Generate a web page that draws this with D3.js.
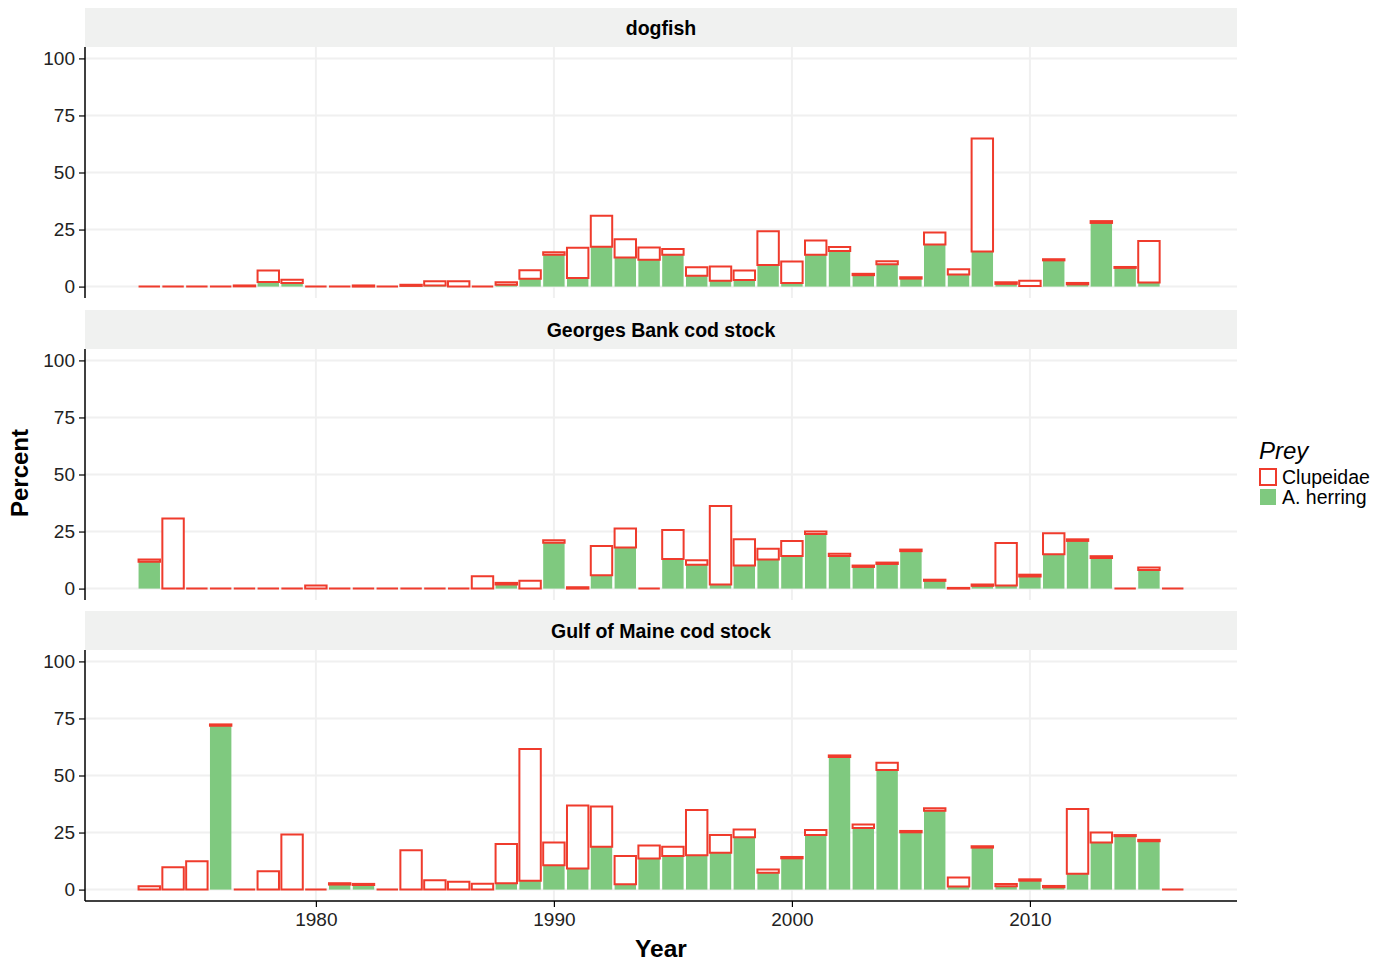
<!DOCTYPE html>
<html>
<head>
<meta charset="utf-8">
<script src="https://cdn.jsdelivr.net/npm/d3@7"></script>
<style>
  body { margin: 0; background: #fff; }
  text { font-family: "Liberation Sans", Arial, sans-serif; }
</style>
</head>
<body>
<div id="viz"></div>
<script>
var width = 1384
var height = 962

// years and values (percent)
var years = d3.range(1973, 2017)
var facets = ["dogfish", "Georges Bank cod stock", "Gulf of Maine cod stock"]
var preyLabels = ["Clupeidae", "A. herring"]
var yTicks = [0, 25, 50, 75, 100]
var xTicks = [1980, 1990, 2000, 2010]

// dogfish has no 2016 sample
var dogfishClupeidae = [0, 0, 0, 0, 0.5, 7, 3, 0, 0, 0.5, 0, 0.8, 2.3, 2.3, 0, 1.9, 7.2, 15, 17, 31.1, 20.8, 17.1,
  16.5, 8.5, 8.8, 7, 24.3, 11, 20.2, 17.3, 5.6, 11.1, 4.1, 23.7, 7.6, 64.9, 1.9, 2.6, 12, 1.6, 28.7, 8.6, 20, null]
var dogfishHerring = [0, 0, 0, 0, 0.1, 2, 1.6, 0, 0, 0, 0, 0.3, 0.5, 0, 0, 0.8, 3.4, 14, 3.8, 17.5, 12.7, 11.8,
  14, 4.8, 2.6, 2.9, 9.5, 1.6, 13.9, 15.6, 5, 9.8, 3.5, 18.4, 5.3, 15.4, 1.2, 0.3, 11.5, 1, 27.9, 8.2, 1.8, null]

var georgesClupeidae = [12.7, 30.7, 0, 0, 0, 0, 0, 1.3, 0, 0, 0, 0, 0, 0, 5.4, 2.5, 3.4, 21.2, 0.6, 18.7, 26.3, 0,
  25.7, 12.4, 36.2, 21.6, 17.5, 20.9, 25, 15.3, 10.1, 11.4, 17.1, 3.9, 0.3, 1.8, 20, 6.1, 24.2, 21.6, 14.2, 0, 9.2, 0]
var georgesHerring = [11.8, 0, 0, 0, 0, 0, 0, 0, 0, 0, 0, 0, 0, 0, 0, 1.8, 0, 20.1, 0, 5.8, 18, 0,
  13, 10.4, 1.8, 10.1, 12.8, 14.3, 23.9, 14.3, 9.5, 10.8, 16.4, 3.4, 0, 1.2, 1.3, 5.3, 15, 20.9, 13.4, 0, 8.2, 0]

var maineClupeidae = [1.5, 9.8, 12.4, 72.4, 0, 8, 24.1, 0, 2.8, 2.5, 0, 17.2, 4.1, 3.4, 2.6, 20, 61.6, 20.6, 36.9, 36.4, 14.7, 19.3,
  18.8, 34.9, 23.9, 26.3, 8.8, 14.3, 26.1, 58.8, 28.5, 55.6, 25.7, 35.6, 5.3, 19, 2.5, 4.5, 1.6, 35.3, 25, 23.9, 21.8, 0]
var maineHerring = [0, 0, 0, 71.8, 0, 0, 0, 0, 2.2, 2, 0, 0, 0, 0, 0, 2.8, 3.9, 10.7, 9.2, 18.8, 2.3, 13.6,
  14.7, 15, 16.1, 22.9, 7.4, 13.7, 23.9, 58.1, 27, 52.4, 25.1, 34.6, 1.3, 18.4, 1.5, 3.9, 1, 6.9, 20.6, 23.4, 21.2, 0]

var clupeidae = [dogfishClupeidae, georgesClupeidae, maineClupeidae]
var herring = [dogfishHerring, georgesHerring, maineHerring]

var red = "#ef3b2c"
var green = "#7fc97f"

var svg = d3.select("#viz")
  .append("svg")
  .attr("width", width)
  .attr("height", height)

var left = 85, right = 1237
// strip top of each facet
var stripTops = [8, 310, 611]
var stripH = 39
var panelH = 251

var x = d3.scaleLinear()
  .domain([1970.3, 2018.7])
  .range([left, right])
var barW = (x(1981) - x(1980)) * 0.9

facets.forEach(function(name, i) {
  var top = stripTops[i] + stripH
  var y = d3.scaleLinear()
    .domain([-5, 105])
    .range([top + panelH, top])

  // strip
  svg.append("rect")
    .attr("x", left).attr("y", stripTops[i])
    .attr("width", right - left).attr("height", stripH)
    .attr("fill", "#f0f1f0")
  svg.append("text")
    .attr("x", (left + right) / 2).attr("y", stripTops[i] + stripH / 2 + 7)
    .attr("text-anchor", "middle")
    .style("font-size", "19.5px").style("font-weight", "bold")
    .text(name)

  var g = svg.append("g")

  // grid
  g.selectAll(".hg").data(yTicks).enter().append("line")
    .attr("x1", left).attr("x2", right)
    .attr("y1", d => y(d)).attr("y2", d => y(d))
    .attr("stroke", "#f0f0f0").attr("stroke-width", 2)
  g.selectAll(".vg").data(xTicks).enter().append("line")
    .attr("x1", d => x(d)).attr("x2", d => x(d))
    .attr("y1", top).attr("y2", top + panelH)
    .attr("stroke", "#f0f0f0").attr("stroke-width", 2)

  var rows = years.map(function(yr, j) {
    return { year: yr, total: clupeidae[i][j], herring: herring[i][j] }
  }).filter(d => d.total != null)

  // A. herring (bottom of stack)
  g.selectAll(".herring").data(rows.filter(d => d.herring > 0)).enter().append("rect")
    .attr("x", d => x(d.year) - barW / 2)
    .attr("width", barW)
    .attr("y", d => y(d.herring))
    .attr("height", d => y(0) - y(d.herring))
    .attr("fill", green)

  // Clupeidae (rest, on top); a path so that empty bars still show their outline
  g.selectAll(".clup").data(rows).enter().append("path")
    .attr("d", function(d) {
      var x0 = x(d.year) - barW / 2, x1 = x(d.year) + barW / 2
      var y0 = y(d.herring), y1 = Math.min(y(d.total), y0)
      return "M" + x0 + "," + y0 + "H" + x1 + "V" + y1 + "H" + x0 + "Z"
    })
    .attr("fill", "#fff")
    .attr("stroke", red)
    .attr("stroke-width", 2)

  // y axis
  var yAxis = svg.append("g")
    .attr("transform", "translate(" + left + ",0)")
    .call(d3.axisLeft(y).tickValues(yTicks).tickSize(6).tickPadding(4))
  yAxis.select(".domain").attr("d", "M0," + top + "V" + (top + panelH)).attr("stroke-width", 1.5)
  yAxis.selectAll(".tick line").attr("stroke-width", 1.2)
  yAxis.selectAll("text").style("font-size", "19px").attr("fill", "#222")

  if (i == facets.length - 1) {
    var xAxis = svg.append("g")
      .attr("transform", "translate(0," + (top + panelH) + ")")
      .call(d3.axisBottom(x).tickValues(xTicks).tickFormat(d3.format("d")).tickSize(6).tickPadding(6))
    xAxis.select(".domain").attr("d", "M" + left + ",0H" + right).attr("stroke-width", 1.5)
    xAxis.selectAll(".tick line").attr("stroke-width", 1.2)
    xAxis.selectAll("text").style("font-size", "19px").attr("fill", "#222")
  }
})

// axis titles
svg.append("text")
  .attr("x", (left + right) / 2).attr("y", 957)
  .attr("text-anchor", "middle")
  .style("font-size", "24.5px").style("font-weight", "bold")
  .text("Year")
svg.append("text")
  .attr("transform", "translate(28,473) rotate(-90)")
  .attr("text-anchor", "middle")
  .style("font-size", "24px").style("font-weight", "bold")
  .text("Percent")

// legend
var legend = svg.append("g").attr("transform", "translate(1259,440)")
legend.append("text")
  .attr("x", 0).attr("y", 19)
  .style("font-size", "24px").style("font-style", "italic")
  .text("Prey")
legend.selectAll(".key").data(preyLabels).enter().append("rect")
  .attr("x", 1)
  .attr("y", (d, k) => 29 + k * 20)
  .attr("width", 16).attr("height", 16)
  .attr("fill", (d, k) => k == 0 ? "#fff" : green)
  .attr("stroke", (d, k) => k == 0 ? red : "none")
  .attr("stroke-width", 2)
legend.selectAll(".lab").data(preyLabels).enter().append("text")
  .attr("x", 23)
  .attr("y", (d, k) => 43.5 + k * 20)
  .style("font-size", "19.5px")
  .text(d => d)
</script>
</body>
</html>
